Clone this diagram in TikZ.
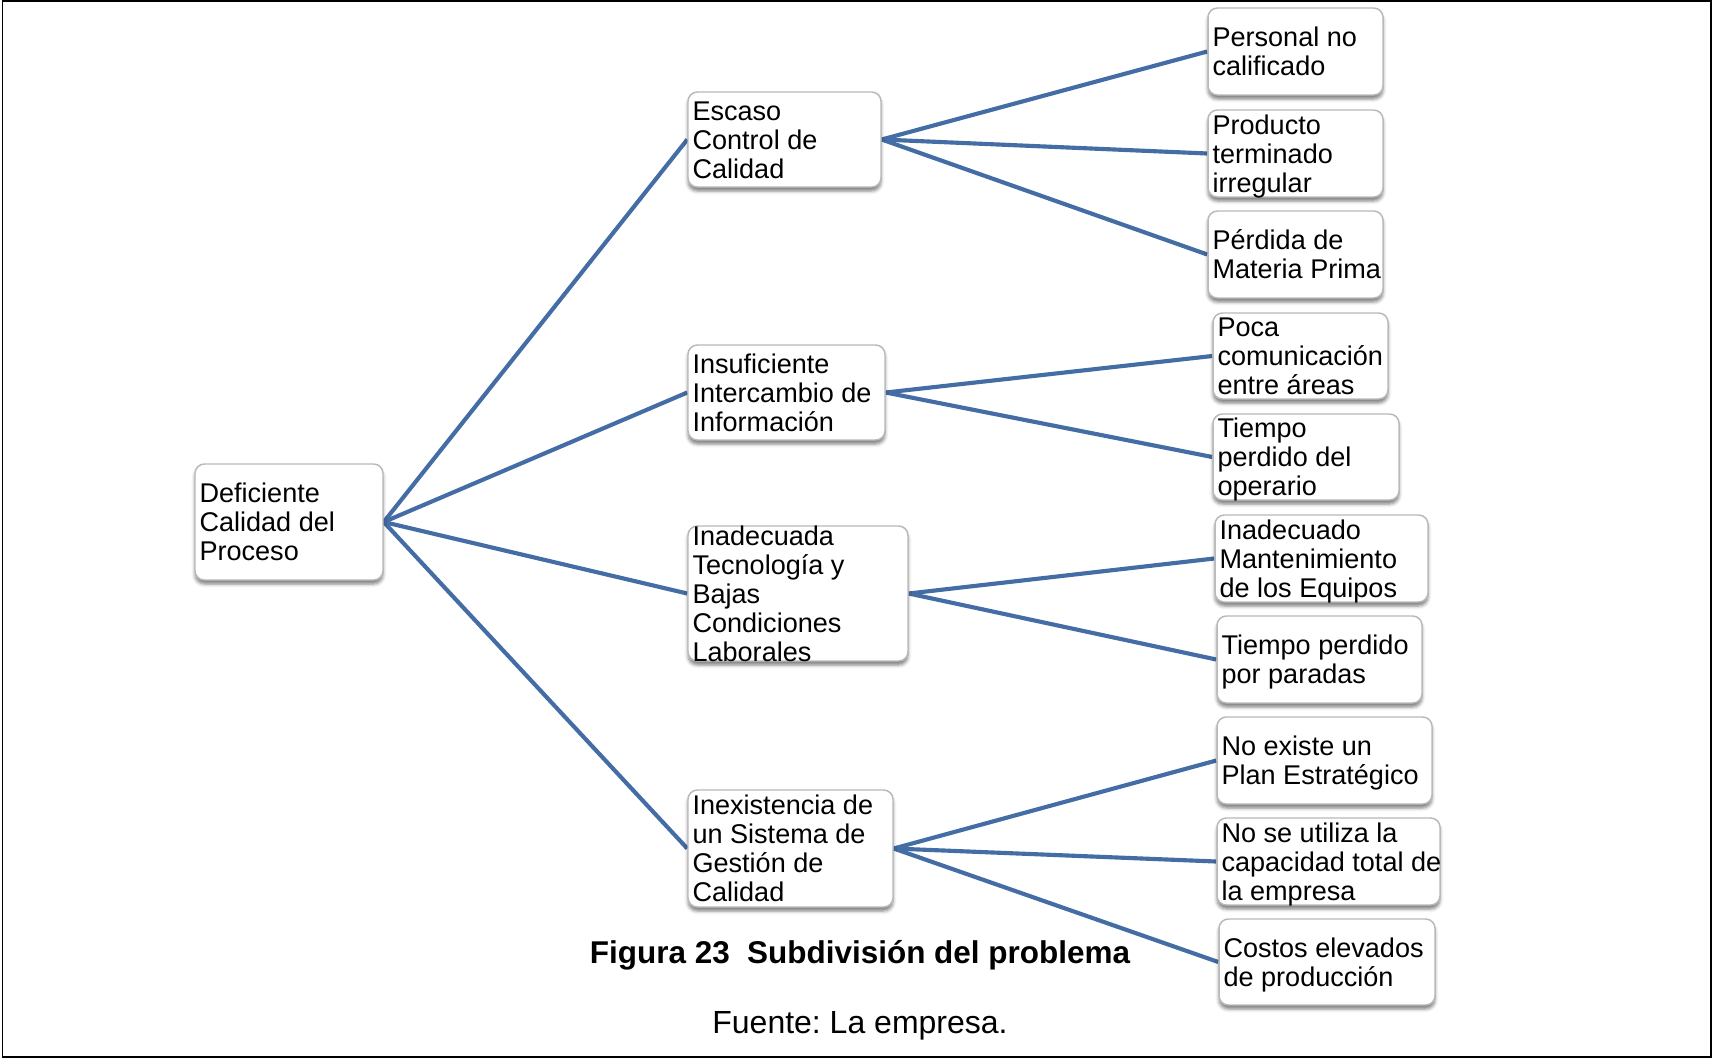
\documentclass[tikz,border=0pt]{standalone}
\usepackage{fontspec}
\setmainfont{Liberation Sans}
\usetikzlibrary{shadows.blur,backgrounds}
\definecolor{conn}{RGB}{68,108,165}
\definecolor{boxline}{RGB}{185,185,185}
\newcommand\mytop{\rule{0pt}{19.5pt}}
\newcommand\mybot{\rule[-5.07pt]{0pt}{5.07pt}}
\tikzset{
  cbox/.style={draw=boxline, line width=1.1pt, fill=white, rounded corners=7pt, inner sep=0pt,
    blur shadow={shadow xshift=0pt, shadow yshift=-3pt, shadow blur radius=2.5pt, shadow opacity=50}},
  sz/.style 2 args={minimum width=#1*0.75pt, minimum height=#2*0.75pt},
  ctext/.style={anchor=west, align=left, inner sep=0pt, font=\fontsize{20.3}{21.75}\selectfont},
  link/.style={draw=conn, line width=3.1pt},
  frame/.style={draw=black, line width=1.2pt},
}
\begin{document}
\frenchspacing
\begin{tikzpicture}[x=0.75pt,y=-0.75pt]
\useasboundingbox (0,0) rectangle (1716,1060);
\draw[frame] (2.5,1) rectangle (1711,1057);

% boxes
\node[cbox, sz={188}{116}] (root) at (289,522) {};
\node[cbox, sz={193}{95}] (e1) at (784.5,139.5) {};
\node[cbox, sz={197}{95}] (e2) at (786.5,392.5) {};
\node[cbox, sz={220}{135}] (e3) at (798,593.5) {};
\node[cbox, sz={205}{117}] (e4) at (790.5,848.5) {};
\node[cbox, sz={175}{87}] (l1) at (1295.5,51.5) {};
\node[cbox, sz={175}{87}] (l2) at (1295.5,153.5) {};
\node[cbox, sz={175}{87}] (l3) at (1295.5,254.5) {};
\node[cbox, sz={175}{86}] (l4) at (1300.5,356) {};
\node[cbox, sz={186}{86}] (l5) at (1306,457) {};
\node[cbox, sz={213}{87}] (l6) at (1321.5,558.5) {};
\node[cbox, sz={205}{87}] (l7) at (1319.5,659.5) {};
\node[cbox, sz={215}{87}] (l8) at (1324.5,760.5) {};
\node[cbox, sz={223}{87}] (l9) at (1328.5,861.5) {};
\node[cbox, sz={216}{86}] (l10) at (1327,962) {};

% texts
\node[ctext] (troot) at ([xshift=3.75pt]root.west) {\mytop Deficiente\\Calidad del\\Proceso\mybot};
\node[ctext] (te1) at ([xshift=3.75pt]e1.west) {\mytop Escaso\\Control de\\Calidad\mybot};
\node[ctext] (te2) at ([xshift=3.75pt]e2.west) {\mytop Insuficiente\\Intercambio de\\Información\mybot};
\node[ctext] (te3) at ([xshift=3.75pt]e3.west) {\mytop Inadecuada\\Tecnología y\\Bajas\\Condiciones\\Laborales\mybot};
\node[ctext] (te4) at ([xshift=3.75pt]e4.west) {\mytop Inexistencia de\\un Sistema de\\Gestión de\\Calidad\mybot};
\node[ctext] (tl1) at ([xshift=3.75pt]l1.west) {\mytop Personal no\\calificado\mybot};
\node[ctext] (tl2) at ([xshift=3.75pt]l2.west) {\mytop Producto\\terminado\\irregular\mybot};
\node[ctext] (tl3) at ([xshift=3.75pt]l3.west) {\mytop Pérdida de\\Materia Prima\mybot};
\node[ctext] (tl4) at ([xshift=3.75pt]l4.west) {\mytop Poca\\comunicación\\entre áreas\mybot};
\node[ctext] (tl5) at ([xshift=3.75pt]l5.west) {\mytop Tiempo\\perdido del\\operario\mybot};
\node[ctext] (tl6) at ([xshift=3.75pt]l6.west) {\mytop Inadecuado\\Mantenimiento\\de los Equipos\mybot};
\node[ctext] (tl7) at ([xshift=3.75pt]l7.west) {\mytop Tiempo perdido\\por paradas\mybot};
\node[ctext] (tl8) at ([xshift=3.75pt]l8.west) {\mytop No existe un\\Plan Estratégico\mybot};
\node[ctext] (tl9) at ([xshift=3.75pt]l9.west) {\mytop No se utiliza la\\capacidad total de\\la empresa\mybot};
\node[ctext] (tl10) at ([xshift=3.75pt]l10.west) {\mytop Costos elevados\\de producción\mybot};

% connectors
\begin{pgfonlayer}{background}
\draw[link] (root.east) -- (e1.west);
\draw[link] (root.east) -- (e2.west);
\draw[link] (root.east) -- (e3.west);
\draw[link] (root.east) -- (e4.west);
\draw[link] (e1.east) -- (l1.west);
\draw[link] (e1.east) -- (l2.west);
\draw[link] (e1.east) -- (l3.west);
\draw[link] (e2.east) -- (l4.west);
\draw[link] (e2.east) -- (l5.west);
\draw[link] (e3.east) -- (l6.west);
\draw[link] (e3.east) -- (l7.west);
\draw[link] (e4.east) -- (l8.west);
\draw[link] (e4.east) -- (l9.west);
\draw[link] (e4.east) -- (l10.west);
\end{pgfonlayer}

% caption
\node[anchor=base, inner sep=0pt, font=\bfseries\fontsize{23.6}{28}\selectfont] (cap) at (860,963) {Figura 23\hspace{0.55em}Subdivisión del problema};
\node[anchor=base, inner sep=0pt, font=\fontsize{24}{28}\selectfont] (src) at (860,1033) {Fuente: La empresa.};
\end{tikzpicture}
\end{document}
